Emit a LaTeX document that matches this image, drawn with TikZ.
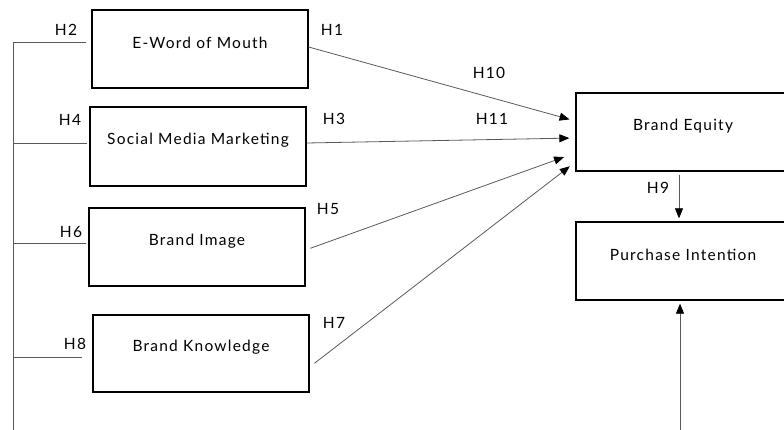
\documentclass[tikz,border=0pt]{standalone}
\usepackage{fontspec}
\setmainfont{Lato}[LetterSpace=8]
\usetikzlibrary{arrows.meta}
\begin{document}
\begin{tikzpicture}[x=1pt, y=-1pt,
    box/.style={draw, line width=1.3pt, minimum width=216pt, minimum height=78pt, inner sep=0pt},
    conn/.style={draw=black!65, line width=0.8pt},
    arr/.style={conn, -{Triangle[length=10pt,width=8pt,color=black]}},
    hyp/.style={font=\fontsize{15.5}{17}\selectfont, text=black},
    every label/.style={font=\fontsize{15.5}{17}\selectfont, text=black, yshift=6pt}]
    \useasboundingbox (0,0) rectangle (784,430);
    \clip (0,0) rectangle (784,430);
    % constructs
    \node[box, label={center:E-Word of Mouth}] (ewom) at (200,49) {};
    \node[box, minimum height=79pt, label={center:Social Media Marketing}] (smm) at (198,146.5) {};
    \node[box, label={center:Brand Image}] (bimg) at (197,247) {};
    \node[box, minimum height=77pt, label={center:Brand Knowledge}] (bknow) at (201,353.5) {};
    \node[box, minimum width=214pt, label={center:Brand Equity}] (beq) at (683,132) {};
    \node[box, minimum width=214pt, label={center:Purchase Intention}] (pint) at (683,261) {};
    % left frame
    \coordinate (top) at (13,42);
    \coordinate (s4) at (13,143);
    \coordinate (s6) at (13,243);
    \coordinate (s8) at (13,357);
    \coordinate (bot) at (13,430);
    \coordinate (corner) at (680,430);
    \draw[conn] (top) -- (bot) -- (corner);
    \draw[conn, shorten >=5pt] (top) -- (top -| ewom.west);
    \draw[conn, shorten >=2pt] (s4) -- (s4 -| smm.west);
    \draw[conn, shorten >=2pt] (s6) -- (s6 -| bimg.west);
    \draw[conn, shorten >=10pt] (s8) -- (s8 -| bknow.west);
    \draw[arr, shorten >=3pt] (corner) -- (corner |- pint.south);
    % paths into brand equity
    \draw[arr, shorten >=6pt] ([yshift=2pt]ewom.east) -- ([yshift=11pt]beq.west);
    \draw[arr, shorten >=6pt] ([yshift=3.5pt]smm.east) -- ([yshift=-6pt]beq.west);
    \draw[arr, shorten <=5pt, shorten >=12pt] ([yshift=-3pt]bimg.east) -- ([yshift=-21pt]beq.west);
    \draw[arr, shorten <=6pt, shorten >=7pt] ([yshift=-13.5pt]bknow.east) -- ([yshift=-30pt]beq.west);
    \draw[arr, shorten <=3pt, shorten >=3pt] ([xshift=-4pt]beq.south) -- ([xshift=-4pt]pint.north);
    % hypotheses
    \node[hyp] (h1) at (332,30) {H1};
    \node[hyp] (h2) at (66,30) {H2};
    \node[hyp] (h3) at (334,119) {H3};
    \node[hyp] (h4) at (70,120) {H4};
    \node[hyp] (h5) at (328,209) {H5};
    \node[hyp] (h6) at (71,232) {H6};
    \node[hyp] (h7) at (334,323) {H7};
    \node[hyp] (h8) at (75,344) {H8};
    \node[hyp] (h9) at (658,188) {H9};
    \node[hyp] (h10) at (489,73) {H10};
    \node[hyp] (h11) at (492,119) {H11};
\end{tikzpicture}
\end{document}
